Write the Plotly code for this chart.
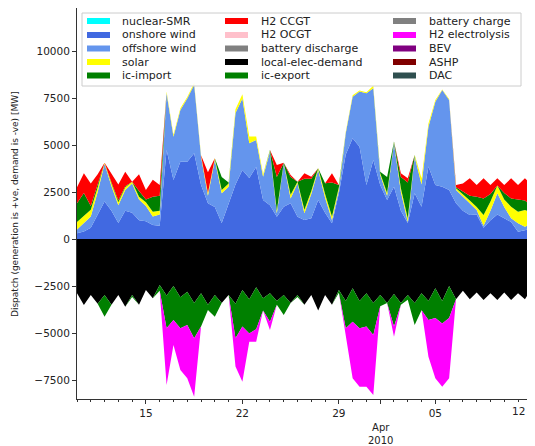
import pandas as pd
import plotly.graph_objects as go

# ---------------- data (MW, 12-hourly from 2010-03-10 00:00) ----------------
start_time = "2010-03-10 00:00"

onshore_wind = [300, 400, 600, 1300, 2000, 1500, 850, 1500, 1400, 1000,
                950, 750, 700, 4730, 3140, 4110, 4110, 4560, 2870, 1900,
                1700, 850, 1900, 2900, 3670, 3240, 3830, 2070, 1800, 1190,
                1720, 1900, 1190, 1010, 1100, 2070, 1400, 835, 2430, 4500,
                5360, 4910, 2870, 4200, 2870, 2070, 2780, 1500, 850, 2430,
                1720, 3850, 2870, 2780, 2610, 1900, 1500, 1280, 1300, 600,
                1000, 1300, 1100, 900, 390, 450, 550]

offshore_wind = [200, 450, 600, 1200, 2000, 1300, 950, 1100, 1550, 1100,
                 800, 450, 600, 3020, 2300, 2750, 3370, 3640, 1510, 400,
                 2500, 1580, 880, 3800, 3810, 1850, 1440, 1240, 2840, 180,
                 2310, 260, 1770, 360, 1300, 1600, 800, 175, 180, 1120,
                 2210, 2930, 4880, 3820, 530, 230, 2310, 1000, 50, 1950,
                 1180, 2120, 4430, 5150, 4790, 710, 750, 620, 240, 100,
                 500, 1130, 600, 200, 445, 200, 285]

solar = [400, 350, 350, 250, 50, 150, 150, 150, 100, 150,
         200, 250, 200, 100, 110, 90, 70, 100, 70, 150,
         90, 170, 170, 200, 220, 360, 180, 140, 60, 130,
         20, 190, 90, 180, 150, 90, 200, 190, 140, 80,
         80, 60, 50, 130, 100, 150, 60, 200, 200, 70,
         330, 180, 100, 20, 50, 90, 150, 150, 160, 580,
         500, 420, 400, 620, 615, 890, 565]

ic_import = [1000, 1250, 200, 100, 0, 50, 100, 50, 0, 300,
             150, 800, 800, 0, 0, 0, 0, 0, 0, 0,
             0, 700, 50, 0, 0, 0, 0, 0, 30, 1800,
             0, 950, 0, 1650, 650, 0, 560, 1800, 120, 0,
             0, 0, 0, 0, 80, 850, 30, 600, 1900, 20,
             0, 0, 0, 0, 0, 50, 120, 250, 550, 880,
             400, 0, 350, 440, 650, 510, 350]

h2_ccgt = [850, 1050, 1200, 600, 0, 450, 850, 780, 0, 900,
           500, 900, 570, 0, 0, 0, 0, 0, 0, 1100,
           0, 0, 0, 0, 0, 0, 0, 0, 0, 640,
           0, 100, 0, 300, 110, 0, 0, 500, 0, 0,
           0, 0, 0, 0, 0, 0, 0, 200, 230, 0,
           0, 0, 0, 0, 0, 120, 430, 930, 620, 1070,
           470, 380, 420, 1070, 770, 1180, 1120]

# demand side (magnitudes, drawn negative)
local_elec_demand = [2890, 3510, 2980, 3450, 2980, 3500, 2980, 3600, 2980, 3500,
                     2710, 3150, 2450, 3000, 2500, 3100, 2800, 3400, 2890, 3500,
                     2980, 3400, 2980, 3450, 2710, 3200, 2570, 3150, 2890, 3300,
                     2980, 3400, 2980, 3500, 2980, 3800, 2980, 3500, 2710, 3300,
                     2625, 3300, 2890, 3400, 2980, 3400, 2930, 3400, 2980, 3400,
                     2890, 3300, 2625, 3300, 2500, 3200, 2750, 3200, 2850, 3250,
                     2890, 3250, 2850, 3250, 2890, 3200, 2625]

ic_export = [0, 0, 0, 0, 1150, 0, 0, 0, 100, 0,
             0, 0, 300, 1750, 1810, 1650, 1775, 1880, 1770, 280,
             1150, 0, 0, 1830, 1950, 1820, 2230, 650, 1510, 200,
             1060, 0, 100, 0, 0, 0, 0, 0, 150, 1450,
             1775, 1450, 1760, 1710, 600, 0, 1730, 100, 250, 1175,
             900, 1010, 1575, 1190, 1700, 0, 0, 0, 0, 0,
             0, 0, 0, 0, 0, 0, 0]

h2_electrolysis = [0, 0, 0, 0, 0, 0, 0, 0, 0, 0,
                   0, 0, 0, 3020, 1330, 2220, 2835, 3110, 0, 0,
                   0, 0, 0, 1500, 2930, 440, 660, 0, 440, 0,
                   0, 0, 0, 0, 0, 0, 0, 0, 0, 500,
                   3010, 3110, 3210, 3190, 0, 0, 540, 0, 0, 0,
                   0, 1950, 3210, 3370, 3210, 0, 0, 0, 0, 0,
                   0, 0, 0, 0, 0, 0, 0]

# legend (column-major, as in the original)
legend_columns = [
    [("nuclear-SMR", "#00ffff"), ("onshore wind", "#4169e1"), ("offshore wind", "#6495ed"),
     ("solar", "#ffff00"), ("ic-import", "#008000")],
    [("H2 CCGT", "#ff0000"), ("H2 OCGT", "#ffc0cb"), ("battery discharge", "#808080"),
     ("local-elec-demand", "#000000"), ("ic-export", "#008000")],
    [("battery charge", "#808080"), ("H2 electrolysis", "#ff00ff"), ("BEV", "#800080"),
     ("ASHP", "#800000"), ("DAC", "#2f4f4f")],
]

y_ticks = [-7500, -5000, -2500, 0, 2500, 5000, 7500, 10000]
x_tick_dates = ["2010-03-15", "2010-03-22", "2010-03-29", "2010-04-01", "2010-04-05", "2010-04-12"]
x_tick_text = ["15", "22", "29", "", "05", ""]
last_tick_label = "12"

# ---------------- figure ----------------
times = pd.date_range(start_time, periods=len(onshore_wind), freq="12h")

# page has an 8 px body margin; the figure fills the rest of the 535x446 window
OFF = 8
W, H = 535 - OFF, 446 - OFF
ML, MR, MT, MB = 77 - OFF, 3, 8 - OFF, 47
PW, PH = W - ML - MR, H - MT - MB


def pxx(x):  # window pixel -> paper x
    return (x - OFF - ML) / PW


def pxy(y):  # window pixel -> paper y
    return (H - MB - (y - OFF)) / PH


fig = go.Figure()

pos_series = [("onshore wind", onshore_wind, "#4169e1"),
              ("offshore wind", offshore_wind, "#6495ed"),
              ("solar", solar, "#ffff00"),
              ("ic-import", ic_import, "#008000"),
              ("H2 CCGT", h2_ccgt, "#ff0000")]
for name, vals, col in pos_series:
    fig.add_trace(go.Scatter(x=times, y=vals, name=name, stackgroup="pos",
                             mode="lines", line=dict(width=0, color=col),
                             fillcolor=col, showlegend=False, hoverinfo="skip"))

neg_series = [("local-elec-demand", local_elec_demand, "#000000"),
              ("ic-export", ic_export, "#008000"),
              ("H2 electrolysis", h2_electrolysis, "#ff00ff")]
for name, vals, col in neg_series:
    fig.add_trace(go.Scatter(x=times, y=[-v for v in vals], name=name, stackgroup="neg",
                             mode="lines", line=dict(width=0, color=col),
                             fillcolor=col, showlegend=False, hoverinfo="skip"))

font_family = "DejaVu Sans"
axis_col = "#333333"
text_col = "#222222"

fig.update_layout(
    width=W, height=H,
    margin=dict(l=ML, r=MR, t=MT, b=MB, autoexpand=False),
    paper_bgcolor="white", plot_bgcolor="white",
    font=dict(family=font_family, size=10.5, color=text_col),
    showlegend=False,
)

x_end = times[-1] + pd.Timedelta(minutes=20)
fig.update_xaxes(
    type="date", range=[times[0], x_end],
    tickmode="array", tickvals=x_tick_dates, ticktext=x_tick_text,
    ticks="outside", ticklen=4, tickcolor=axis_col, tickwidth=1,
    showline=True, linecolor=axis_col, linewidth=1, mirror=True,
    showgrid=False, zeroline=False, automargin=False,
    tickfont=dict(size=10.5, family=font_family, color=text_col),
    minor=dict(tickmode="linear", tick0="2010-03-10", dtick=86400000,
               ticks="outside", ticklen=2, tickcolor=axis_col, showgrid=False),
)
fig.update_yaxes(
    range=[-8510, 12287],
    tickmode="array", tickvals=y_ticks, tickformat="d",
    ticks="outside", ticklen=4, tickcolor=axis_col, tickwidth=1,
    showline=True, linecolor=axis_col, linewidth=1, mirror=True,
    showgrid=False, zeroline=False, automargin=False,
    tickfont=dict(size=10.5, family=font_family, color=text_col),
)

annotations = [
    dict(text="Dispatch (generation is +ve, demand is -ve) [MW]", textangle=-90,
         xref="paper", yref="paper", x=pxx(15), y=pxy(204),
         xanchor="center", yanchor="middle", showarrow=False,
         font=dict(size=9, family=font_family, color=text_col)),
    dict(text="Apr<br>2010", xref="x", yref="paper", x="2010-04-01", y=pxy(434),
         xanchor="center", yanchor="middle", showarrow=False,
         font=dict(size=10, family=font_family, color=text_col)),
    # last date label kept fully inside the visible area at the right edge
    dict(text=last_tick_label, xref="paper", yref="paper", x=pxx(527), y=pxy(411),
         xanchor="right", yanchor="middle", showarrow=False,
         font=dict(size=10.5, family=font_family, color=text_col)),
]

shapes = [
    dict(type="rect", xref="paper", yref="paper",
         x0=pxx(82), x1=pxx(521), y0=pxy(86), y1=pxy(13),
         fillcolor="rgba(255,255,255,0.85)", line=dict(color="#cccccc", width=1),
         layer="above"),
]

col_swatch_x = [87, 225, 393]
col_text_x = [120, 259, 427]
row_y = [21, 35, 48.5, 62, 75.5]
for ci, column in enumerate(legend_columns):
    for ri, (label, col) in enumerate(column):
        yc = row_y[ri]
        shapes.append(dict(type="rect", xref="paper", yref="paper",
                           x0=pxx(col_swatch_x[ci]), x1=pxx(col_swatch_x[ci] + 23),
                           y0=pxy(yc + 3), y1=pxy(yc - 3),
                           fillcolor=col, line=dict(width=0), layer="above"))
        annotations.append(dict(text=label, xref="paper", yref="paper",
                                x=pxx(col_text_x[ci]), y=pxy(yc),
                                xanchor="left", yanchor="middle", showarrow=False,
                                font=dict(size=11, family=font_family, color=text_col)))

fig.update_layout(shapes=shapes, annotations=annotations)

fig.write_html("out.html")
